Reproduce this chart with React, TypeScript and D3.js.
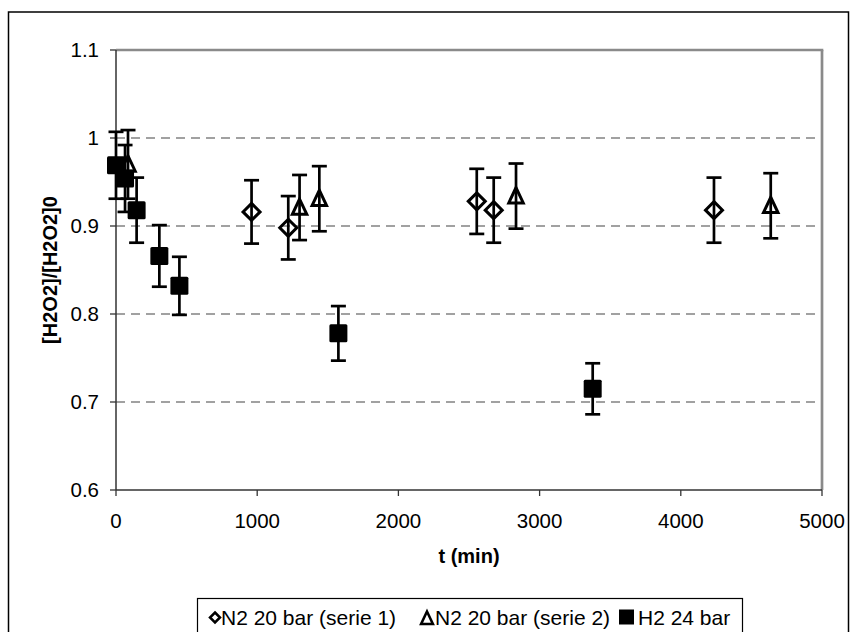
import React from "react";
import * as d3 from "d3";

const s1X = [960, 1220, 2555, 2675, 4235];
const s1Y = [0.916, 0.898, 0.928, 0.918, 0.918];
const s1E = [0.036, 0.036, 0.037, 0.037, 0.037];

const s2X = [85, 1300, 1440, 2833, 4637];
const s2Y = [0.970, 0.921, 0.931, 0.934, 0.923];
const s2E = [0.039, 0.037, 0.037, 0.037, 0.037];

const s3X = [0, 64, 146, 307, 449, 1575, 3376];
const s3Y = [0.969, 0.954, 0.918, 0.866, 0.832, 0.778, 0.715];
const s3E = [0.038, 0.038, 0.037, 0.035, 0.033, 0.031, 0.029];

const xTicks = [0, 1000, 2000, 3000, 4000, 5000];
const yTicks = [0.6, 0.7, 0.8, 0.9, 1.0, 1.1];
const yTickLabels = ["0.6", "0.7", "0.8", "0.9", "1", "1.1"];
const legendLabels = ["N2 20 bar (serie 1)", "N2 20 bar (serie 2)", "H2 24 bar"];

const FONT = "'Liberation Sans', Arial, sans-serif";

export default function App() {
  const L = 116, R = 822, T = 50, B = 490;
  const x = d3.scaleLinear().domain([0, 5000]).range([L, R]);
  const y = d3.scaleLinear().domain([0.6, 1.1]).range([B, T]);

  const errBar = (xv: number, yv: number, e: number, key: string) => {
    const cx = x(xv);
    return (
      <g key={key} stroke="#000" strokeWidth={2.7}>
        <line x1={cx} x2={cx} y1={y(yv + e)} y2={y(yv - e)} />
        <line x1={cx - 7.5} x2={cx + 7.5} y1={y(yv + e)} y2={y(yv + e)} />
        <line x1={cx - 7.5} x2={cx + 7.5} y1={y(yv - e)} y2={y(yv - e)} />
      </g>
    );
  };

  const diamond = (cx: number, cy: number, r: number) =>
    `M${cx},${cy - r}L${cx + r},${cy}L${cx},${cy + r}L${cx - r},${cy}Z`;
  const triangle = (cx: number, cy: number, r: number) =>
    `M${cx},${cy - r}L${cx + r * 0.85},${cy + r * 0.8}L${cx - r * 0.85},${cy + r * 0.8}Z`;

  const legX = 197, legY = 598, legW = 545;

  return (
    <svg width={857} height={632} style={{ position: "absolute", left: 0, top: 0 }} fontFamily={FONT}>
      <rect x={0} y={0} width={857} height={632} fill="#fff" />
      <rect x={8.5} y={12} width={840} height={640} fill="none" stroke="#000" strokeWidth={1.5} />
      {/* gridlines */}
      {yTicks.slice(1, 5).map((t) => (
        <line key={t} x1={L} x2={R} y1={y(t)} y2={y(t)} stroke="#444" strokeWidth={1.2} strokeDasharray="9,6" />
      ))}
      {/* plot border */}
      <line x1={L} x2={R + 1.3} y1={T} y2={T} stroke="#8a8a8a" strokeWidth={2.7} />
      <line x1={R} x2={R} y1={T} y2={B} stroke="#8a8a8a" strokeWidth={2.7} />
      {/* axes */}
      <line x1={L} x2={L} y1={T} y2={B} stroke="#333" strokeWidth={1.5} />
      <line x1={L} x2={R} y1={B} y2={B} stroke="#333" strokeWidth={1.5} />
      {yTicks.map((t, i) => (
        <g key={t}>
          <line x1={L - 6} x2={L} y1={y(t)} y2={y(t)} stroke="#333" strokeWidth={1.3} />
          <text x={99} y={y(t)} dy="0.36em" textAnchor="end" fontSize={20.5}>{yTickLabels[i]}</text>
        </g>
      ))}
      {xTicks.map((t) => (
        <g key={t}>
          <line x1={x(t)} x2={x(t)} y1={B} y2={B + 6} stroke="#333" strokeWidth={1.3} />
          <text x={x(t)} y={528} textAnchor="middle" fontSize={20.5}>{t}</text>
        </g>
      ))}
      <text x={(L + R) / 2} y={563} textAnchor="middle" fontSize={20} fontWeight="bold">t (min)</text>
      <text transform={`translate(57,${(T + B) / 2}) rotate(-90)`} textAnchor="middle" fontSize={20} fontWeight="bold">[H2O2]/[H2O2]0</text>

      {/* error bars */}
      {s3X.map((v, i) => errBar(v, s3Y[i], s3E[i], "e3" + i))}
      {s1X.map((v, i) => errBar(v, s1Y[i], s1E[i], "e1" + i))}
      {s2X.map((v, i) => errBar(v, s2Y[i], s2E[i], "e2" + i))}

      {/* markers */}
      {s1X.map((v, i) => (
        <path key={"m1" + i} d={diamond(x(v), y(s1Y[i]), 8.5)} fill="none" stroke="#000" strokeWidth={3} strokeLinejoin="miter" />
      ))}
      {s2X.map((v, i) => (
        <path key={"m2" + i} d={triangle(x(v), y(s2Y[i]), 8.5)} fill="none" stroke="#000" strokeWidth={3} />
      ))}
      {s3X.map((v, i) => (
        <rect key={"m3" + i} x={x(v) - 9} y={y(s3Y[i]) - 9} width={18} height={18} fill="#000" rx={1.5} />
      ))}

      {/* legend */}
      <rect x={legX + 0.5} y={legY + 0.5} width={legW} height={60} fill="#fff" stroke="#000" strokeWidth={1.2} />
      <path d={diamond(215, 617.5, 5)} fill="none" stroke="#000" strokeWidth={2.5} />
      <text x={221} y={624.5} fontSize={21}>{legendLabels[0]}</text>
      <path d={triangle(427, 618.5, 7)} fill="none" stroke="#000" strokeWidth={2.5} />
      <text x={435} y={624.5} fontSize={21}>{legendLabels[1]}</text>
      <rect x={619} y={609.5} width={15} height={15} fill="#000" />
      <text x={638} y={624.5} fontSize={21}>{legendLabels[2]}</text>
    </svg>
  );
}
